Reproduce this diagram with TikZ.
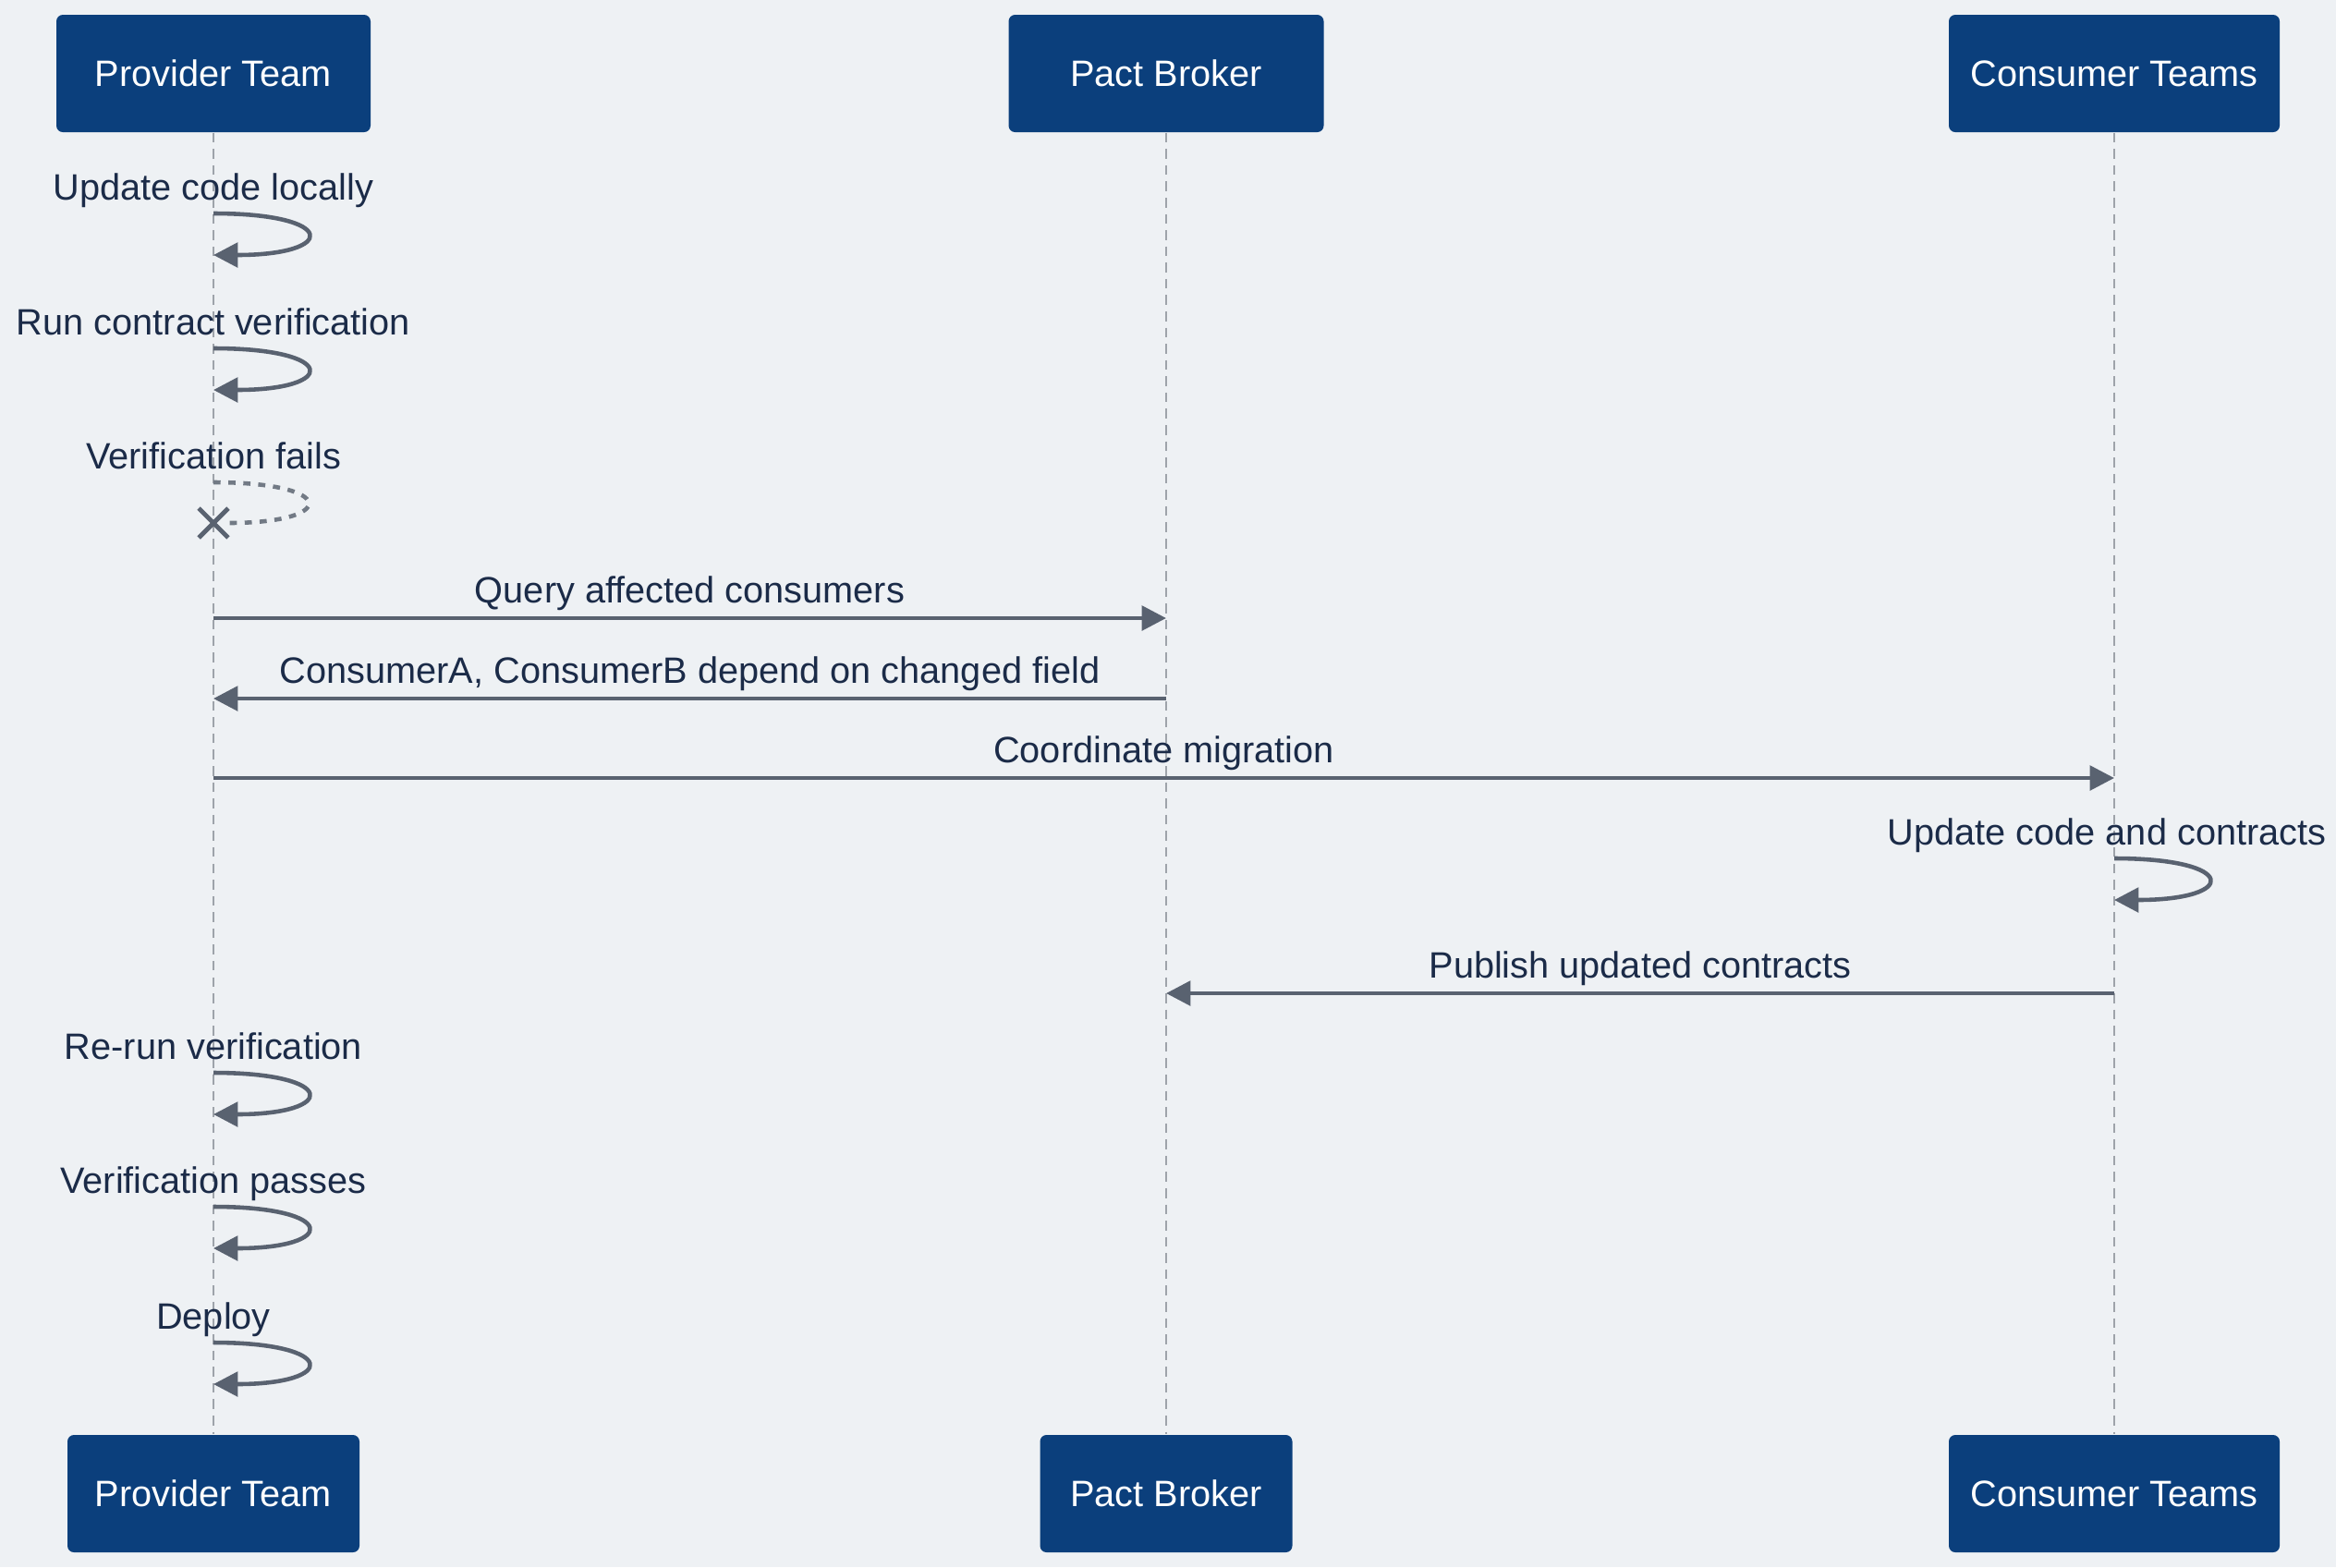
\documentclass[tikz,border=0pt]{standalone}
\usepackage{fontspec}
\setmainfont{Liberation Sans}
\usepackage{xcolor}
\usetikzlibrary{arrows.meta,positioning,shapes.misc}
\definecolor{bgcol}{HTML}{EEF1F4}
\definecolor{navy}{HTML}{0B3F7C}
\definecolor{inkcol}{HTML}{1B2B48}
\definecolor{arrcol}{HTML}{596270}
\definecolor{lifecol}{HTML}{9EA3AA}

\begin{document}
\begin{tikzpicture}[font=\fontsize{11.3}{13.4}\selectfont,
  actor/.style={rectangle, rounded corners=2pt, fill=navy, text=white, minimum width=#1, minimum height=1.27cm, align=center},
  arr/.style={-{Triangle[length=7.5pt,width=7.5pt]}, line width=1.3pt, draw=arrcol},
  failloop/.style={line width=1.3pt, draw=arrcol!85, dash pattern=on 2.2pt off 2.4pt},
  life/.style={draw=lifecol, line width=0.7pt, dash pattern=on 3pt off 2pt},
  msg/.style={text=inkcol, inner sep=0pt, text height=0.72em, text depth=0.2em}]
  % Canvas
  \fill[bgcol] (0,0) rectangle (25.28,-16.96);
  \useasboundingbox (0,0) rectangle (25.28,-16.96);
  % Participants
  \node[actor=3.40cm] (prov)  at (2.31,-0.795)   {Provider Team};
  \node[actor=3.41cm] (pact)  at (12.62,-0.795)  {Pact Broker};
  \node[actor=3.58cm] (cons)  at (22.88,-0.795)  {Consumer Teams};
  \node[actor=3.16cm] (provB) at (2.31,-16.165)  {Provider Team};
  \node[actor=2.73cm] (pactB) at (12.62,-16.165) {Pact Broker};
  \node[actor=3.58cm] (consB) at (22.88,-16.165) {Consumer Teams};
  % Lifelines
  \draw[life] (prov) -- (provB);
  \draw[life] (pact) -- (pactB);
  \draw[life] (cons) -- (consB);
  % Provider works locally
  \coordinate (upA) at (2.31,-2.31);  \coordinate (upB) at (2.31,-2.76);
  \draw[arr] (upA) .. controls +(1.35,0) and +(1.35,0) .. (upB);
  \node[msg, above=2pt of upA] {Update code locally};
  \coordinate (runA) at (2.31,-3.77); \coordinate (runB) at (2.31,-4.22);
  \draw[arr] (runA) .. controls +(1.35,0) and +(1.35,0) .. (runB);
  \node[msg, above=2pt of runA] {Run contract verification};
  \coordinate (failA) at (2.31,-5.22);
  \node[cross out, draw=arrcol, line width=1.4pt, minimum size=0.27cm, inner sep=0pt] (failX) at (2.31,-5.66) {};
  \draw[failloop] (failA) .. controls +(1.35,0) and +(1.35,0) .. (failX);
  \node[msg, above=2pt of failA] {Verification fails};
  % Broker queries
  \coordinate (qA) at (2.31,-6.69);  \coordinate (qB) at (12.62,-6.69);
  \draw[arr] (qA) -- node[msg, midway, above=2pt] {Query affected consumers} (qB);
  \coordinate (rA) at (12.62,-7.56); \coordinate (rB) at (2.31,-7.56);
  \draw[arr] (rA) -- node[msg, midway, above=2pt] {ConsumerA, ConsumerB depend on changed field} (rB);
  \coordinate (cA) at (2.31,-8.42);  \coordinate (cB) at (22.88,-8.42);
  \draw[arr] (cA) -- node[msg, midway, above=2pt] {Coordinate migration} (cB);
  % Consumers update
  \coordinate (ucA) at (22.88,-9.29); \coordinate (ucB) at (22.88,-9.74);
  \draw[arr] (ucA) .. controls +(1.35,0) and +(1.35,0) .. (ucB);
  \node[msg, above=2pt of ucA, xshift=-0.08cm] {Update code and contracts};
  \coordinate (pubA) at (22.88,-10.75); \coordinate (pubB) at (12.62,-10.75);
  \draw[arr] (pubA) -- node[msg, midway, above=2pt] {Publish updated contracts} (pubB);
  % Provider finishes
  \coordinate (rrA) at (2.31,-11.61); \coordinate (rrB) at (2.31,-12.06);
  \draw[arr] (rrA) .. controls +(1.35,0) and +(1.35,0) .. (rrB);
  \node[msg, above=2pt of rrA] {Re-run verification};
  \coordinate (okA) at (2.31,-13.06); \coordinate (okB) at (2.31,-13.51);
  \draw[arr] (okA) .. controls +(1.35,0) and +(1.35,0) .. (okB);
  \node[msg, above=2pt of okA] {Verification passes};
  \coordinate (depA) at (2.31,-14.53); \coordinate (depB) at (2.31,-14.98);
  \draw[arr] (depA) .. controls +(1.35,0) and +(1.35,0) .. (depB);
  \node[msg, above=2pt of depA] {Deploy};
\end{tikzpicture}
\end{document}
